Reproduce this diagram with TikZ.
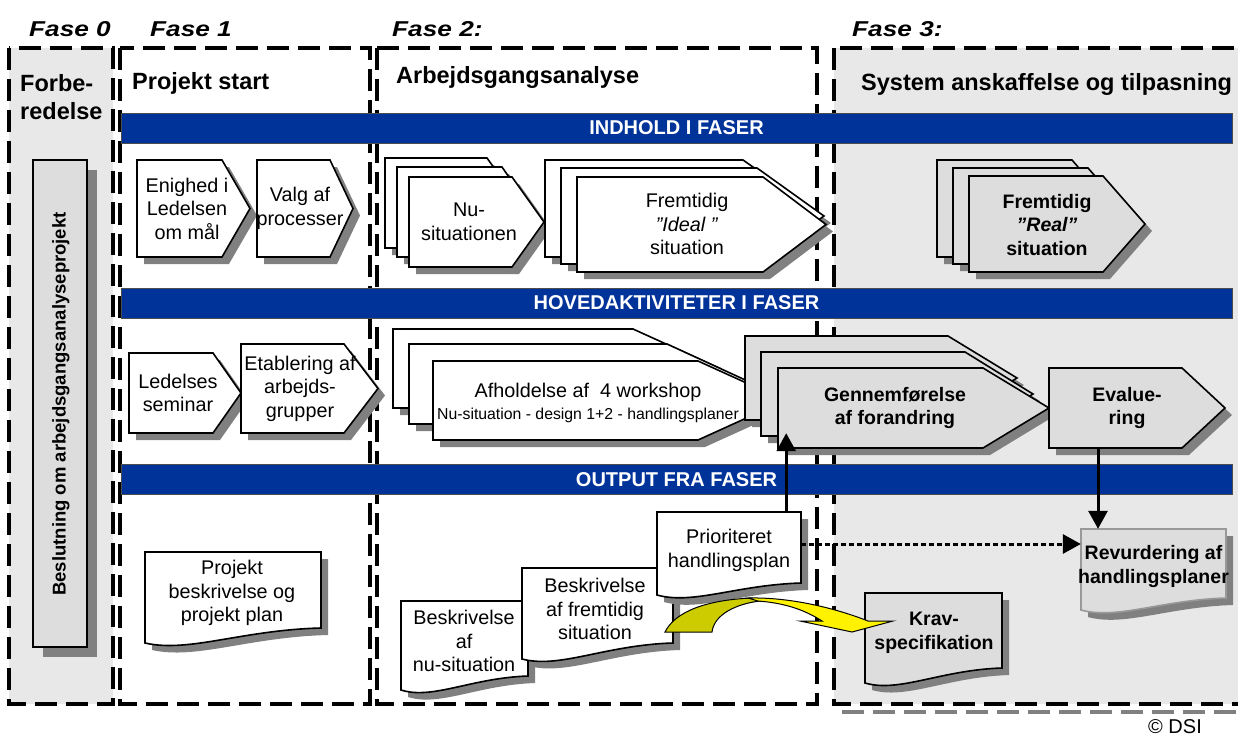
\documentclass[tikz,border=0pt]{standalone}
\usepackage{fontspec}
\setmainfont{Liberation Sans}
\usepackage{graphicx}
\usetikzlibrary{arrows.meta}
\definecolor{barblue}{HTML}{003399}
\definecolor{fasegray}{HTML}{E8E8E8}
\definecolor{boxgray}{HTML}{DDDDDD}
\definecolor{shadowgray}{HTML}{808080}
\definecolor{darkyellow}{HTML}{CCCC00}
\tikzset{
  fasebox/.style={line width=4pt, dash pattern=on 22pt off 9pt},
  shapeline/.style={draw=black, line width=1.6pt, line join=miter},
  bar/.style={fill=barblue, draw=black!70, line width=1pt, text=white,
    font=\bfseries\fontsize{20}{24}\selectfont, minimum width=1111pt,
    minimum height=30pt, inner sep=0pt},
  txt/.style={align=center, inner sep=0pt, font=\fontsize{19.8}{23.5}\selectfont},
  btxt/.style={txt, font=\bfseries\fontsize{19.5}{23.5}\selectfont},
  title/.style={anchor=base west, inner sep=0pt, font=\bfseries\fontsize{23.5}{28}\selectfont},
  faselbl/.style={anchor=base west, inner sep=0pt, font=\bfseries\itshape\fontsize{21.5}{26}\selectfont},
  flow/.style={line width=3pt, -{Triangle[length=18pt,width=19pt]}},
  dotflow/.style={flow, dash pattern=on 5pt off 3pt},
}
% style, left, top, right, tip, bottom
\newcommand\chev[6]{%
  \fill[shadowgray, shift={(7,7)}] (#2,#3) -- (#4,#3) -- (#5,{(#3+#6)/2}) -- (#4,#6) -- (#2,#6) -- cycle;
  \draw[shapeline, #1] (#2,#3) -- (#4,#3) -- (#5,{(#3+#6)/2}) -- (#4,#6) -- (#2,#6) -- cycle;}
% style, left, top, right, bottom left, bottom right
\newcommand\docshape[6]{%
  \fill[shadowgray, shift={(7,7)}] (#2,#3) -- (#4,#3) -- (#4,#6)
    .. controls ({#2+0.55*(#4-#2)},{#6+2}) and ({#2+0.25*(#4-#2)},{#5+10}) .. (#2,#5) -- cycle;
  \draw[shapeline, #1] (#2,#3) -- (#4,#3) -- (#4,#6)
    .. controls ({#2+0.55*(#4-#2)},{#6+2}) and ({#2+0.25*(#4-#2)},{#5+10}) .. (#2,#5) -- cycle;}
\begin{document}
\begin{tikzpicture}[x=1pt,y=-1pt]
\useasboundingbox (0,0) rectangle (1238,736);
\fill[fasegray] (9,48) rectangle (113,704);
\fill[fasegray] (834,48) rectangle (1246,704);
\draw[fasebox, draw=shadowgray] (842,712) -- (1246,712);
\draw[fasebox] (9,48) rectangle (113,704);
\draw[fasebox] (120,48) rectangle (370,704);
\draw[fasebox] (377,48) rectangle (817,704);
\draw[fasebox] (834,48) rectangle (1246,704);

\node[faselbl] (f0) at (29,36) {\scalebox{1.22}[1]{Fase 0}};
\node[faselbl] (f1) at (150,36) {\scalebox{1.22}[1]{Fase 1}};
\node[faselbl] (f2) at (392,36) {\scalebox{1.22}[1]{Fase 2:}};
\node[faselbl] (f3) at (852,36) {\scalebox{1.22}[1]{Fase 3:}};
\node[title, align=left] (forb) at (20,119) {Forbe-\\redelse};
\node[title] (pstart) at (132,89) {Projekt start};
\node[title] (arbej) at (396,83) {Arbejdsgangsanalyse};
\node[title] (system) at (861,90) {System anskaffelse og tilpasning};

\node[bar] (indhold) at (676.5,128) {INDHOLD I FASER};
\node[bar] (hoved) at (676.5,303) {HOVEDAKTIVITETER I FASER};
\node[bar] (output) at (676.5,479.5) {OUTPUT FRA FASER};

\fill[shadowgray] (43,170) rectangle (97,657);
\draw[shapeline, fill=boxgray] (33,160) rectangle (87,647);
\node[btxt, rotate=90, font=\bfseries\fontsize{18.5}{22}\selectfont] (besl) at (61,404) {Beslutning om arbejdsgangsanalyseprojekt};

\chev{fill=white}{137}{160}{222}{250}{257}
\node[txt] (enig) at (187,208.5) {Enighed i\\Ledelsen\\om mål};
\chev{fill=white}{257}{160}{330}{353}{257}
\node[txt] (valg) at (300,208.5) {Valg af\\processer};
\chev{fill=white}{385}{158}{487}{519}{248}
\chev{fill=white}{397}{167}{502}{533}{257}
\chev{fill=white}{409}{177}{512}{544}{267}
\node[txt] (nusit) at (469,222) {Nu-\\situationen};
\chev{fill=white}{545}{160}{743}{812}{257}
\chev{fill=white}{561}{168}{757}{824}{264}
\chev{fill=white}{577}{177}{763}{826}{272}
\node[txt] (ideal) at (687,224) {Fremtidig\\\textit{”Ideal ”}\\situation};
\chev{fill=boxgray}{937}{160}{1072}{1114}{257}
\chev{fill=boxgray}{953}{168}{1088}{1130}{264}
\chev{fill=boxgray}{969}{176}{1103}{1145}{272}
\node[btxt] (real) at (1047,225) {Fremtidig\\\textit{”Real”}\\situation};

\chev{fill=white}{129}{353}{213}{241}{433}
\node[txt] (ledel) at (178,393) {Ledelses\\seminar};
\chev{fill=white}{241}{344}{344}{378}{433}
\node[txt] (etab) at (300,388.5) {Etablering af\\arbejds-\\grupper};
\chev{fill=white}{393}{329}{633}{720}{408}
\chev{fill=white}{409}{344}{667}{754}{424}
\chev{fill=white}{433}{361}{698}{785}{440}
\node[txt] (work) at (588,403) {Afholdelse af\ \ 4 workshop\\[-2pt]{\fontsize{15.8}{18}\selectfont Nu-situation - design 1+2 - handlingsplaner}};
\chev{fill=boxgray}{745}{336}{948}{1017}{420}
\chev{fill=boxgray}{761}{352}{965}{1033}{436}
\chev{fill=boxgray}{778}{368}{983}{1049}{448}
\node[btxt, minimum height=80pt] (genn) at (895,408) {Gennemførelse\\af forandring};
\chev{fill=boxgray}{1049}{368}{1182}{1225}{448}
\node[btxt, minimum height=80pt] (eval) at (1127,408) {Evalue-\\ring};

\docshape{fill=white}{145}{552}{321}{643}{628}
\node[txt] (pdoc) at (232,593) {Projekt\\beskrivelse og\\projekt plan};
\docshape{fill=white}{401}{601}{528}{690}{676}
\node[txt] (nudoc) at (464,641) {Beskrivelse\\af\\nu-situation};
\docshape{fill=white}{522}{568}{673}{659}{643}
\node[txt] (fremdoc) at (595,609) {Beskrivelse\\af fremtidig\\situation};
\docshape{fill=white}{657}{512}{801}{595}{583}
\node[txt, minimum width=144pt, minimum height=77pt] (prio) at (729,550.5) {Prioriteret\\handlingsplan};
\docshape{fill=boxgray}{865}{593}{1002}{683}{668}
\node[btxt] (krav) at (934,633) {Krav-\\specifikation};
\docshape{fill=boxgray, draw=black!40}{1081}{529}{1226}{610}{598}
\node[btxt, minimum width=145pt, minimum height=75pt] (revu) at (1153.5,566.5) {\makebox[0pt]{Revurdering af}\\\makebox[0pt]{handlingsplaner}};

\draw[fill=darkyellow, line width=1pt] (665,632) .. controls (675,612) and (705,600) .. (752,598)
  -- (760,601) .. controls (735,604) and (714,615) .. (712,632) -- cycle;
\draw[fill=yellow, line width=1pt] (748,598) .. controls (790,597) and (835,608) .. (868,621)
  -- (893,621) -- (852,632) -- (800,621) -- (822,621) .. controls (805,610) and (785,603) .. (758,601) -- cycle;

\draw[flow, shorten >=-15pt] ([xshift=-15pt]prio.north east) -- ([xshift=-15pt]prio.north east |- genn.south);
\draw[flow] ([xshift=-29pt]eval.south) -- ([xshift=-29pt]eval.south |- revu.north);
\draw[dotflow] ([yshift=6.5pt]prio.east) -- ([yshift=6.5pt]prio.east -| revu.west);

\node[txt, anchor=base west, font=\fontsize{20}{24}\selectfont] (dsi) at (1148,733) {\textcopyright\ DSI};
\end{tikzpicture}
\end{document}
